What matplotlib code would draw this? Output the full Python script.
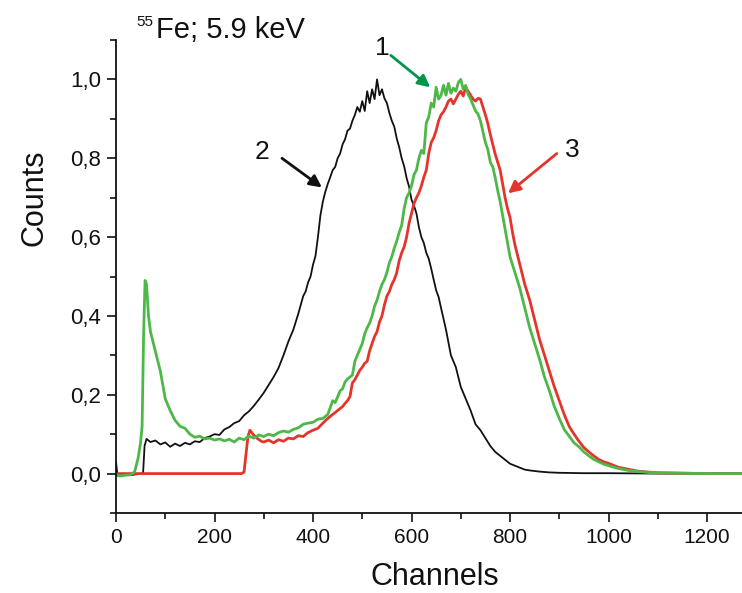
import matplotlib
matplotlib.use("Agg")
import matplotlib.pyplot as plt
from matplotlib.ticker import FixedLocator, FuncFormatter

# ---------------- data ----------------
black_ch = [0, 3, 10, 20, 30, 40, 50, 55, 58, 62, 70, 80, 90, 100, 110, 120, 130, 140, 150, 160,
            170, 180, 190, 200, 210, 220, 230, 240, 250, 260, 270, 280, 290, 300, 310, 320, 330,
            340, 350, 360, 370,
            380, 385, 390, 395, 400, 405, 410, 415, 420, 425, 430, 435, 440, 445, 450, 455, 460,
            465, 470, 475, 480, 485, 490, 495, 500, 505, 510, 515, 520, 525, 530, 535, 540, 545,
            550, 555, 560, 565, 570, 575, 580, 585, 590, 595, 600, 605, 610, 615, 620, 625, 630,
            635, 640, 645, 650, 655, 660,
            670, 680, 690, 700, 710, 720, 730, 740, 750, 760, 770, 780, 790, 800,
            810, 820, 830, 840, 860, 880, 900, 950, 1000, 1100, 1200, 1275]
black_v = [0.03, -0.005, -0.004, -0.003, -0.004, -0.002, -0.001, 0.002, 0.07, 0.088, 0.080, 0.084,
           0.074, 0.079, 0.068, 0.076, 0.070, 0.078, 0.074, 0.082, 0.080, 0.090, 0.094, 0.100,
           0.098, 0.112, 0.118, 0.128, 0.133, 0.148, 0.158, 0.172, 0.188, 0.205, 0.225, 0.245,
           0.268, 0.300, 0.335, 0.365, 0.405,
           0.450, 0.462, 0.485, 0.500, 0.530, 0.552, 0.600, 0.655, 0.690, 0.715, 0.735, 0.752,
           0.770, 0.778, 0.800, 0.812, 0.835, 0.848, 0.870, 0.875, 0.895, 0.910, 0.930, 0.918,
           0.945, 0.920, 0.970, 0.940, 0.975, 0.950, 1.000, 0.960, 0.975, 0.952, 0.940, 0.915,
           0.895, 0.880, 0.850, 0.828, 0.800, 0.780, 0.750, 0.728, 0.695, 0.680, 0.660, 0.625,
           0.600, 0.585, 0.560, 0.545, 0.520, 0.492, 0.465, 0.448, 0.420,
           0.365, 0.300, 0.270, 0.220, 0.190, 0.160, 0.125, 0.110, 0.090, 0.070,
           0.055, 0.045, 0.035, 0.025, 0.020, 0.015, 0.010, 0.008, 0.005, 0.003, 0.002, 0.001,
           0.001, 0.000, 0.000, 0.000]

green_ch = [0, 10, 20, 30, 38, 45, 50, 53, 56, 59, 62, 66, 70, 80, 90, 100, 110, 120, 130, 140,
            150, 160, 170, 180, 190, 200, 210, 220, 230, 240, 250, 260, 270, 280, 290, 300, 310,
            320, 330, 340, 350, 360, 370, 380, 390, 400, 410, 420, 430,
            440, 445, 450, 455, 460, 465, 470, 475, 480, 485, 490, 495, 500, 505, 510, 515, 520,
            525, 530, 535, 540, 545, 550, 555, 560, 565, 570, 575, 580, 585, 590, 595, 600, 605,
            610, 615, 620, 625, 630, 635, 640, 645, 650, 655, 660, 665, 670, 675, 680, 685, 690,
            695, 700, 705, 710, 715, 720, 725, 730, 735, 740, 745, 750, 755, 760, 765, 770, 775,
            780, 785, 790, 795, 800,
            810, 820, 830, 840, 850, 860, 870, 880, 890, 900, 910, 920, 930, 940, 950,
            960, 970, 980, 990, 1000, 1020, 1040, 1060, 1080, 1100, 1150, 1200, 1275]
green_v = [-0.005, -0.006, -0.004, -0.003, 0.005, 0.04, 0.08, 0.12, 0.35, 0.49, 0.48, 0.40, 0.36,
           0.31, 0.26, 0.19, 0.16, 0.135, 0.12, 0.115, 0.10, 0.092, 0.095, 0.088, 0.090, 0.085,
           0.088, 0.083, 0.087, 0.080, 0.090, 0.086, 0.095, 0.090, 0.098, 0.094, 0.100, 0.096,
           0.104, 0.108, 0.105, 0.112, 0.116, 0.125, 0.128, 0.130, 0.138, 0.140, 0.150,
           0.185, 0.180, 0.195, 0.210, 0.215, 0.232, 0.240, 0.245, 0.250, 0.285, 0.300, 0.315,
           0.330, 0.355, 0.370, 0.382, 0.400, 0.425, 0.440, 0.462, 0.480, 0.492, 0.510, 0.535,
           0.550, 0.572, 0.590, 0.612, 0.630, 0.672, 0.700, 0.712, 0.730, 0.758, 0.770, 0.800,
           0.820, 0.812, 0.890, 0.905, 0.940, 0.930, 0.980, 0.950, 0.960, 0.985, 0.960, 0.990,
           0.965, 0.978, 0.970, 0.992, 1.000, 0.975, 0.985, 0.962, 0.950, 0.935, 0.920, 0.912,
           0.895, 0.868, 0.840, 0.822, 0.790, 0.778, 0.750, 0.718, 0.690, 0.655, 0.620, 0.585,
           0.550,
           0.510, 0.470, 0.420, 0.370, 0.330, 0.290, 0.245, 0.210, 0.170, 0.140, 0.112, 0.095,
           0.078, 0.068, 0.055, 0.045, 0.036, 0.030, 0.024, 0.020, 0.013, 0.008, 0.005, 0.003,
           0.002, 0.001, 0.000, 0.000]

red_ch = [0, 100, 200, 255, 260, 264, 268, 272, 278, 286, 295, 300, 310, 320, 330, 340, 350, 360,
          370, 380, 390, 400, 410, 420, 430, 440, 450,
          460, 465, 470, 475, 480, 485, 490, 495, 500, 505, 510, 515, 520, 525, 530, 535, 540,
          545, 550, 555, 560, 565, 570, 575, 580, 585, 590, 595, 600, 605, 610, 615, 620, 625,
          630, 635, 640, 645, 650, 655, 660, 665, 670, 675, 680, 685, 690, 695, 700, 705, 710,
          715, 720, 725, 730, 735, 740, 745, 750, 755, 760, 765, 770, 775, 780, 785, 790, 795,
          800, 805, 810, 815, 820,
          830, 840, 850, 860, 870, 880, 890, 900, 910, 920, 930, 940, 950, 960, 970, 980, 990,
          1000, 1020, 1040, 1060, 1080, 1100, 1150, 1200, 1275]
red_v = [0.0, 0.0, 0.0, 0.0, 0.004, 0.05, 0.095, 0.110, 0.100, 0.090, 0.082, 0.080, 0.085, 0.078,
         0.086, 0.082, 0.090, 0.088, 0.096, 0.094, 0.104, 0.110, 0.115, 0.128, 0.140, 0.150,
         0.160,
         0.170, 0.178, 0.185, 0.195, 0.230, 0.238, 0.250, 0.262, 0.270, 0.280, 0.285, 0.312,
         0.330, 0.348, 0.360, 0.385, 0.400, 0.428, 0.450, 0.462, 0.480, 0.492, 0.510, 0.540,
         0.560, 0.575, 0.600, 0.635, 0.660, 0.685, 0.700, 0.712, 0.730, 0.752, 0.770, 0.812,
         0.840, 0.852, 0.870, 0.895, 0.910, 0.918, 0.930, 0.945, 0.950, 0.938, 0.950, 0.962,
         0.970, 0.958, 0.980, 0.970, 0.960, 0.950, 0.945, 0.952, 0.950, 0.930, 0.910, 0.888,
         0.860, 0.835, 0.810, 0.790, 0.770, 0.735, 0.700, 0.672, 0.650, 0.612, 0.580, 0.555,
         0.530,
         0.480, 0.440, 0.390, 0.340, 0.300, 0.260, 0.220, 0.185, 0.150, 0.120, 0.100, 0.082,
         0.066, 0.055, 0.045, 0.036, 0.030, 0.026, 0.016, 0.011, 0.006, 0.004, 0.002, 0.001,
         0.000, 0.000]

x_major = [0, 200, 400, 600, 800, 1000, 1200]
x_minor = [100, 300, 500, 700, 900, 1100]
y_major = [0.0, 0.2, 0.4, 0.6, 0.8, 1.0]
y_minor = [-0.1, 0.1, 0.3, 0.5, 0.7, 0.9, 1.1]

# ---------------- figure ----------------
plt.rcParams['font.family'] = ['Liberation Sans', 'DejaVu Sans']
W, H = 742, 593
fig = plt.figure(figsize=(W / 100, H / 100), dpi=100)
ax = fig.add_axes([116 / W, (H - 513) / H, (W - 116) / W, (513 - 40) / H])

BLACK = '#111111'
GREEN = '#4db848'
RED = '#e5342b'
GREEN_ARROW = '#00964a'

ax.plot(black_ch, black_v, color=BLACK, lw=1.3)
ax.plot(red_ch, red_v, color=RED, lw=2.0)
ax.plot(green_ch, green_v, color=GREEN, lw=2.0)

ax.set_xlim(0, 1271)
ax.set_ylim(-0.1, 1.1)

for s in ['top', 'right']:
    ax.spines[s].set_visible(False)
for s in ['left', 'bottom']:
    ax.spines[s].set_linewidth(1.3)
    ax.spines[s].set_color('#111111')

ax.xaxis.set_major_locator(FixedLocator(x_major))
ax.xaxis.set_minor_locator(FixedLocator(x_minor))
ax.yaxis.set_major_locator(FixedLocator(y_major))
ax.yaxis.set_minor_locator(FixedLocator(y_minor))
ax.yaxis.set_major_formatter(FuncFormatter(lambda v, p: f"{v:.1f}".replace('.', ',')))
ax.xaxis.set_major_formatter(FuncFormatter(lambda v, p: f"{int(round(v))}"))

ax.tick_params(which='major', direction='out', length=6.5, width=1.2,
               colors='#111111', pad=4)
ax.tick_params(which='minor', direction='out', length=4, width=1.2, colors='#111111')
ax.tick_params(axis='x', which='major', labelsize=15)
ax.tick_params(axis='y', which='major', labelsize=16)

fig.text(35 / W, 1 - 198 / H, 'Counts', rotation=90, ha='center', va='center', fontsize=22,
         color='#111111')
fig.text(435 / W, 1 - 577 / H, 'Channels', ha='center', va='center', fontsize=22,
         color='#111111')

# title
fig.text(136 / W, 1 - 26 / H, '55', ha='left', va='baseline', fontsize=11, color='#111111')
fig.text(156 / W, 1 - 38 / H, 'Fe; 5.9 keV', ha='left', va='baseline', fontsize=21,
         color='#111111')

# annotations
ax.text(540, 1.079, '1', ha='center', va='center', fontsize=19, color='#111111')
ax.annotate('', xy=(638, 0.98), xytext=(558, 1.061),
            arrowprops=dict(arrowstyle='-|>', color=GREEN_ARROW, lw=2, mutation_scale=18,
                            shrinkA=0, shrinkB=0))
ax.text(296, 0.815, '2', ha='center', va='center', fontsize=19, color='#111111')
ax.annotate('', xy=(418, 0.726), xytext=(337, 0.80),
            arrowprops=dict(arrowstyle='-|>', color=BLACK, lw=2, mutation_scale=18,
                            shrinkA=0, shrinkB=0))
ax.text(926, 0.82, '3', ha='center', va='center', fontsize=19, color='#111111')
ax.annotate('', xy=(796, 0.711), xytext=(895, 0.812),
            arrowprops=dict(arrowstyle='-|>', color=RED, lw=2, mutation_scale=18,
                            shrinkA=0, shrinkB=0))

fig.savefig('out.png', dpi=100)
